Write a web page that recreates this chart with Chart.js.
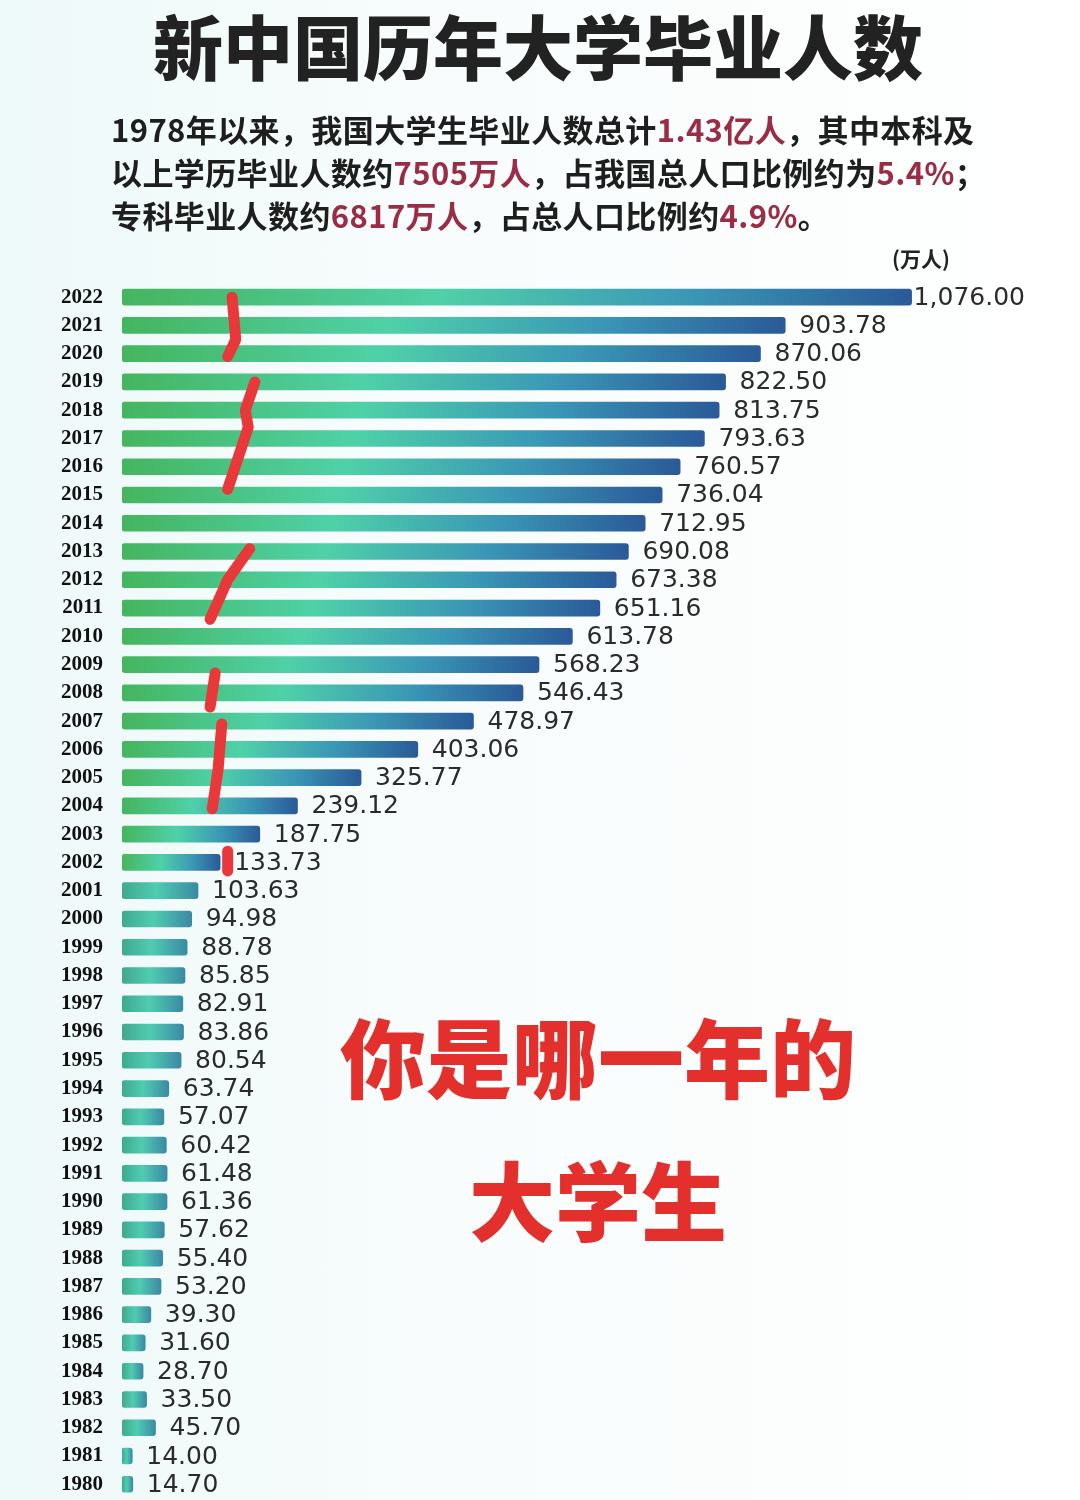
<!DOCTYPE html>
<html>
<head>
	<meta charset="utf-8">
	<script src="https://cdn.jsdelivr.net/npm/chart.js@4.4.1/dist/chart.umd.min.js"></script>
	<style type="text/css">
	body{
		margin: 0;
		background: linear-gradient(90deg, #eef9f9 0%, #f8fcfc 40%, #ffffff 100%);
		font-family: "Noto Sans CJK SC", sans-serif;
	}
	#page{ position: relative; width: 1080px; height: 1500px; overflow: hidden; }
	#chart-area{ position: absolute; left: 0; top: 0; }
	.txt{ position: absolute; white-space: nowrap; }
	#title{ top: 8px; left: 0; width: 1076px; text-align: center; font-size: 70px; line-height: 74px; font-weight: 900; color: #222; }
	#sub{ top: 107px; left: 111px; font-size: 31px; line-height: 43px; font-weight: 700; color: #1e1e1e; letter-spacing: 0.4px; }
	#sub span{ color: #9a2c45; }
	#unit{ top: 244px; left: 892px; font-size: 21px; line-height: 28px; font-weight: 700; color: #222; }
	.big{ left: 298px; width: 600px; text-align: center; font-size: 86px; line-height: 90px; font-weight: 900; color: #e3302c;
		text-shadow: 2px 2px 0 #fff, -2px -2px 0 #fff, 2px -2px 0 #fff, -2px 2px 0 #fff, 0 0 8px rgba(255,255,255,0.9); }
	</style>
</head>
<body>
<div id="page">
	<canvas id="chart-area" width="1080" height="1530"></canvas>
	<div id="title" class="txt">新中国历年大学毕业人数</div>
	<div id="sub" class="txt">1978年以来，我国大学生毕业人数总计<span>1.43亿人</span>，其中本科及<br>以上学历毕业人数约<span>7505万人</span>，占我国总人口比例约为<span>5.4%</span>；<br>专科毕业人数约<span>6817万人</span>，占总人口比例约<span>4.9%</span>。</div>
	<div id="unit" class="txt">(万人)</div>
	<div class="txt big" style="top:1010px">你是哪一年的</div>
	<div class="txt big" style="top:1153px">大学生</div>
</div>

<script>
var years = ['2022','2021','2020','2019','2018','2017','2016','2015','2014','2013','2012','2011','2010',
	'2009','2008','2007','2006','2005','2004','2003','2002','2001','2000','1999','1998','1997','1996',
	'1995','1994','1993','1992','1991','1990','1989','1988','1987','1986','1985','1984','1983','1982',
	'1981','1980'];

var graduates = [1076.00, 903.78, 870.06, 822.50, 813.75, 793.63, 760.57, 736.04, 712.95, 690.08, 673.38,
	651.16, 613.78, 568.23, 546.43, 478.97, 403.06, 325.77, 239.12, 187.75, 133.73, 103.63, 94.98, 88.78,
	85.85, 82.91, 83.86, 80.54, 63.74, 57.07, 60.42, 61.48, 61.36, 57.62, 55.40, 53.20, 39.30, 31.60,
	28.70, 33.50, 45.70, 14.00, 14.70];

// red hand-drawn marks, points as [value, year]
var redMarks = [
	[[150, 2022], [155, 2020.5], [144, 2019.9]],
	[[181, 2019], [168, 2018], [172, 2017.4], [144, 2015.2]],
	[[174, 2013.1], [144, 2012], [120, 2010.6]],
	[[127, 2008.7], [120, 2007.5]],
	[[136, 2006.9], [131, 2005.3], [123, 2003.9]],
	[[144, 2002.4], [144, 2001.7]]
];

function barGradient(c) {
	var chart = c.chart;
	if (!chart.chartArea || c.raw === undefined) return '#3fb59a';
	var x0 = chart.scales.x.getPixelForValue(0);
	var x1 = chart.scales.x.getPixelForValue(c.raw);
	var g = chart.ctx.createLinearGradient(x0, 0, Math.max(x1, x0 + 1), 0);
	if (c.raw < 120) {
		g.addColorStop(0, '#3fa98f');
		g.addColorStop(0.45, '#50ccb0');
		g.addColorStop(1, '#3a8aa4');
	} else {
		g.addColorStop(0, '#45b55e');
		g.addColorStop(0.4, '#4fd1a8');
		g.addColorStop(0.72, '#3a97b6');
		g.addColorStop(1, '#2a5a98');
	}
	return g;
}

var valueLabels = {
	id: 'valueLabels',
	afterDatasetsDraw: function(chart) {
		var ctx = chart.ctx;
		var meta = chart.getDatasetMeta(0);
		ctx.save();
		ctx.font = '25px "DejaVu Sans", sans-serif';
		ctx.fillStyle = '#2b2b2b';
		ctx.textBaseline = 'middle';
		ctx.textAlign = 'left';
		meta.data.forEach(function(bar, i) {
			var txt = graduates[i].toLocaleString('en-US', {minimumFractionDigits: 2, maximumFractionDigits: 2});
			var off = i === 0 ? 2 : 14;
			ctx.fillText(txt, bar.x + off, bar.y + 1);
		});
		ctx.restore();
	}
};

var marks = {
	id: 'marks',
	afterDatasetsDraw: function(chart) {
		var ctx = chart.ctx, xs = chart.scales.x, ys = chart.scales.y;
		ctx.save();
		ctx.strokeStyle = '#e8383a';
		ctx.lineWidth = 11;
		ctx.lineCap = 'round';
		ctx.lineJoin = 'round';
		redMarks.forEach(function(stroke) {
			ctx.beginPath();
			stroke.forEach(function(p, k) {
				var px = xs.getPixelForValue(p[0]);
				var py = ys.getPixelForValue(2022 - p[1]);
				if (k === 0) ctx.moveTo(px, py); else ctx.lineTo(px, py);
			});
			ctx.stroke();
		});
		ctx.restore();
	}
};

var config = {
	type: 'bar',
	data: {
		labels: years,
		datasets: [{
			data: graduates,
			backgroundColor: barGradient,
			borderRadius: 3,
			borderSkipped: false,
			barThickness: 16
		}]
	},
	options: {
		indexAxis: 'y',
		responsive: false,
		animation: false,
		layout: { padding: { top: 283, bottom: 2, left: 0, right: 4 } },
		plugins: { legend: { display: false }, tooltip: { enabled: false } },
		scales: {
			x: { display: false, min: 0, max: 1300 },
			y: {
				grid: { display: false, drawTicks: false },
				border: { display: false },
				ticks: {
					padding: 19,
					color: '#111',
					font: { family: '"Liberation Serif", serif', size: 21, weight: 'bold' }
				},
				afterFit: function(s) { s.width = 122; }
			}
		}
	},
	plugins: [valueLabels, marks]
};

window.onload = function() {
	var ctx = document.getElementById('chart-area').getContext('2d');
	new Chart(ctx, config);
};
</script>
</body>
</html>
